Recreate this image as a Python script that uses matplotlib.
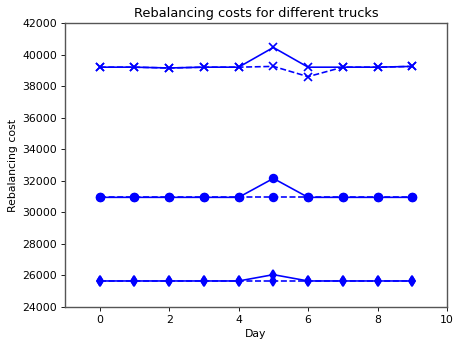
import matplotlib
matplotlib.use("Agg")
import matplotlib.pyplot as plt

days = list(range(10))
x_solid = [39200, 39200, 39150, 39200, 39200, 40450, 39200, 39200, 39200, 39250]
x_dash = [39200, 39200, 39150, 39200, 39200, 39250, 38600, 39200, 39200, 39250]
o_solid = [30950, 30950, 30950, 30950, 30950, 32150, 30950, 30950, 30950, 30950]
o_dash = [30950, 30950, 30950, 30950, 30950, 30950, 30950, 30950, 30950, 30950]
d_solid = [25650, 25650, 25650, 25650, 25650, 26050, 25650, 25650, 25650, 25650]
d_dash = [25650, 25650, 25650, 25650, 25650, 25650, 25650, 25650, 25650, 25650]

s = 0.78
fig = plt.figure(figsize=(4.53, 3.43), dpi=100)
ax = fig.add_axes([65/453, 1-307/343, (447-65)/453, (307-23)/343])
kw = dict(lw=1.5*s, ms=5.6, mew=1.2)
ax.plot(days, x_solid, 'b-x', **kw)
ax.plot(days, x_dash, 'b--x', **kw)
ax.plot(days, o_solid, 'b-o', **kw)
ax.plot(days, o_dash, 'b--o', **kw)
ax.plot(days, d_solid, 'b-d', **kw)
ax.plot(days, d_dash, 'b--d', **kw)
ax.set_xlim(-1, 10)
ax.set_ylim(24000, 42000)
ax.set_xticks([0, 2, 4, 6, 8, 10])
ax.set_yticks(range(24000, 42001, 2000))
ax.tick_params(labelsize=10*s, length=3.5*s, width=0.8*s, pad=3.5*s)
ax.set_xlabel('Day', fontsize=10*s, labelpad=4*s)
ax.set_ylabel('Rebalancing cost', fontsize=10*s, labelpad=4*s)
ax.set_title('Rebalancing costs for different trucks', fontsize=12*s, pad=6*s)
for sp in ax.spines.values():
    sp.set_color('#555555')
    sp.set_linewidth(1.0)
fig.savefig('out.png', dpi=100)
